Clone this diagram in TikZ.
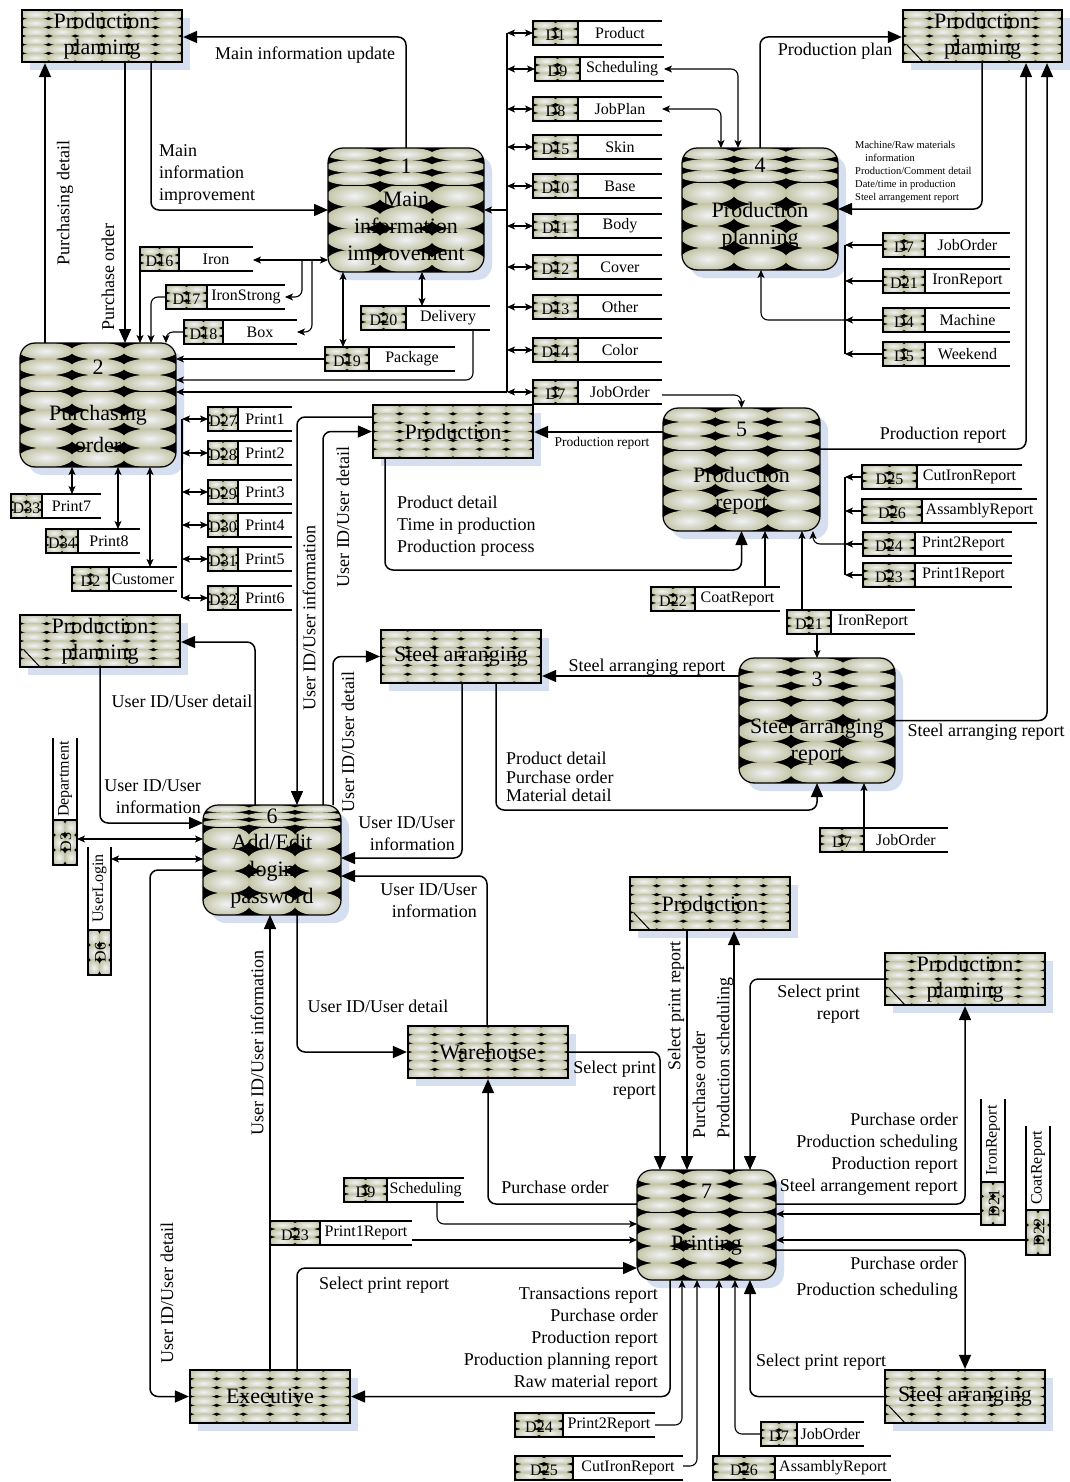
\documentclass[tikz,border=0pt]{standalone}
\usepackage{fontspec}
\setmainfont{Liberation Serif}
\usetikzlibrary{arrows.meta}

\definecolor{texin}{RGB}{240,242,246}
\definecolor{texout}{RGB}{196,197,166}
\definecolor{shadowc}{RGB}{214,223,240}

% grid of shaded ellipses on black: the textured fill of every symbol
\newcommand\texgrid[7]{%
  \begin{scope}
    \clip (#1,#2) rectangle (#3,#4);
    \fill[black] (#1,#2) rectangle (#3,#4);
    \pgfmathsetmacro\tgw{(#3-#1)/#5}%
    \pgfmathsetmacro\tgh{(#4-#2)/#6}%
    \foreach \ti in {1,...,#5}{%
      \foreach \tj in {1,...,#6}{%
        \shade[inner color=texin, outer color=texout]
          ({#1+(\ti-0.5)*\tgw},{#2+(\tj-0.5)*\tgh})
          ellipse [x radius={#7*\tgw*0.5pt}, y radius={#7*\tgh*0.5pt}];
      }}
  \end{scope}}

% external entity: name, x1, y1, x2, y2, text, duplicate mark (0/1)
\newcommand\Ent[7]{%
  \fill[shadowc] (#2+8,#3+8) rectangle (#4+8,#5+8);
  \texgrid{#2}{#3}{#4}{#5}{6}{6}{1.18}
  \ifnum#7=1 \draw[line width=1pt] (#2+4,#5-17) -- (#2+20,#5);\fi
  \node[entity, minimum width={(#4-#2)*1pt}, minimum height={(#5-#3)*1pt}]
    (#1) at ({(#2+#4)/2},{(#3+#5)/2}) {#6};}

% process: name, x1, y1, x2, y2, divider y, number, text
\newcommand\Proc[8]{%
  \fill[shadowc, rounded corners=15pt] (#2+8,#3+8) rectangle (#4+8,#5+8);
  \begin{scope}
    \clip[rounded corners=15pt] (#2,#3) rectangle (#4,#5);
    \texgrid{#2}{#3}{#4}{#6}{3}{3}{1.05}
    \texgrid{#2}{#6}{#4}{#5}{3}{4}{1.05}
  \end{scope}
  \node[proc, minimum width={(#4-#2)*1pt}, minimum height={(#5-#3)*1pt}]
    (#1) at ({(#2+#4)/2},{(#3+#5)/2}) {};
  \draw[line width=0.8pt] (#2,#6) -- (#4,#6);
  \node[ptext] (#1-n) at ({(#2+#4)/2},{(#3+#6)/2}) {#7};
  \node[ptext] (#1-t) at ({(#2+#4)/2},{(#6+#5)/2}) {#8};}

% data store: name, x1, x of id edge, x2, y1, y2, id, label
\newcommand\Store[8]{%
  \texgrid{#2}{#5}{#3}{#6}{2}{3}{1.12}
  \draw[line width=1.2pt] (#2,#5) rectangle (#3,#6);
  \draw[line width=2pt] (#3,#5) -- (#4,#5) (#3,#6) -- (#4,#6);
  \node[stxt] (#1-i) at ({(#2+#3)/2},{(#5+#6)/2+2}) {#7};
  \node[stxt] (#1-l) at ({(#3+#4)/2},{(#5+#6)/2}) {#8};
  \node[anchorbox, minimum width={(#4-#2)*1pt}, minimum height={(#6-#5)*1pt}]
    (#1) at ({(#2+#4)/2},{(#5+#6)/2}) {};}

% upright data store: name, x1, x2, y top, y of id box, y bottom, id, label
\newcommand\VStore[8]{%
  \texgrid{#2}{#5}{#3}{#6}{2}{3}{1.12}
  \draw[line width=1.2pt] (#2,#5) rectangle (#3,#6);
  \draw[line width=2pt] (#2,#4) -- (#2,#5) (#3,#4) -- (#3,#5);
  \node[stxt, rotate=90] (#1-i) at ({(#2+#3)/2+1},{(#5+#6)/2}) {#7};
  \node[stxt, rotate=90] (#1-l) at ({(#2+#3)/2},{(#4+#5)/2}) {#8};
  \node[anchorbox, minimum width={(#3-#2)*1pt}, minimum height={(#6-#4)*1pt}]
    (#1) at ({(#2+#3)/2},{(#4+#6)/2}) {};}

\tikzset{
  entity/.style={draw, line width=2.2pt, rectangle, inner sep=0pt, align=center,
    font=\fontsize{22}{26}\selectfont},
  proc/.style={draw, line width=1.2pt, rectangle, rounded corners=15pt,
    inner sep=0pt, outer sep=0pt},
  ptext/.style={align=center, inner sep=0pt, font=\fontsize{22}{27}\selectfont},
  stxt/.style={inner sep=0pt, font=\fontsize{16}{18}\selectfont},
  anchorbox/.style={rectangle, inner sep=0pt, outer sep=0pt},
  lbl/.style={inner sep=0pt, align=center, font=\fontsize{18}{22}\selectfont},
  slbl/.style={inner sep=0pt, font=\fontsize{13.5}{16}\selectfont},
  tlbl/.style={inner sep=0pt, align=left, font=\fontsize{10.5}{13}\selectfont},
  flow/.style={line width=1.5pt, rounded corners=8pt, -{Triangle[length=14pt,width=12pt]}},
  sflow/.style={line width=1.1pt, rounded corners=7pt, -{Stealth[length=8pt,width=7pt,inset=2pt]}},
  dflow/.style={line width=1.1pt, rounded corners=7pt,
    {Stealth[length=8pt,width=7pt,inset=2pt]}-{Stealth[length=8pt,width=7pt,inset=2pt]}},
  bus/.style={line width=1.1pt}
}

\begin{document}
\begin{tikzpicture}[x=1pt,y=-1pt]
\useasboundingbox (0,0) rectangle (1070,1482);
\fill[white] (0,0) rectangle (1070,1482);

% ---------- external entities ----------
\Ent{E1}{22}{10}{182}{62}{Production\\planning}{0}
\Ent{E2}{903}{10}{1062}{62}{Production\\planning}{1}
\Ent{E3}{20}{615}{180}{667}{Production\\planning}{1}
\Ent{EProd1}{373}{405}{533}{458}{Production}{0}
\Ent{ESteel1}{381}{630}{541}{683}{Steel arranging}{0}
\Ent{EProd2}{630}{877}{790}{930}{Production}{1}
\Ent{E4}{885}{953}{1045}{1005}{Production\\planning}{1}
\Ent{EWare}{408}{1026}{568}{1078}{Warehouse}{0}
\Ent{EExec}{190}{1370}{350}{1423}{Executive}{0}
\Ent{ESteel2}{885}{1370}{1045}{1423}{Steel arranging}{1}

% ---------- processes ----------
\Proc{P1}{328}{148}{484}{272}{185}{1}{Main\\information\\improvement}
\Proc{P4}{682}{148}{838}{270}{182}{4}{Production\\planning}
\Proc{P2}{20}{343}{176}{467}{391}{2}{Purchasing\\[5pt]order}
\Proc{P5}{663}{408}{820}{531}{450}{5}{Production\\report}
\Proc{P3}{739}{658}{895}{783}{700}{3}{Steel arranging\\report}
\Proc{P6}{203}{805}{341}{915}{827}{6}{Add/Edit\\login\\password}
\Proc{P7}{637}{1170}{776}{1280}{1212}{7}{Printing}

% ---------- data stores ----------
\Store{sD1}{533}{578}{662}{21}{45}{D1}{Product}
\Store{sD9}{535}{580}{664}{57}{81}{D9}{Scheduling}
\Store{sD8}{533}{578}{662}{97}{121}{D8}{JobPlan}
\Store{sD15}{533}{578}{662}{135}{159}{D15}{Skin}
\Store{sD10}{533}{578}{662}{174}{198}{D10}{Base}
\Store{sD11}{533}{578}{662}{214}{238}{D11}{Body}
\Store{sD12}{533}{578}{662}{255}{279}{D12}{Cover}
\Store{sD13}{533}{578}{662}{295}{319}{D13}{Other}
\Store{sD14}{533}{578}{662}{338}{362}{D14}{Color}
\Store{sD7a}{533}{578}{662}{380}{404}{D7}{JobOrder}

\Store{sD7b}{883}{925}{1010}{233}{257}{D7}{JobOrder}
\Store{sD21a}{883}{925}{1010}{269}{293}{D21}{IronReport}
\Store{sD4}{883}{925}{1010}{308}{332}{D4}{Machine}
\Store{sD5}{883}{925}{1010}{342}{366}{D5}{Weekend}

\Store{sD16}{140}{179}{253}{247}{271}{D16}{Iron}
\Store{sD17}{166}{207}{285}{285}{309}{D17}{IronStrong}
\Store{sD18}{184}{223}{297}{320}{344}{D18}{Box}
\Store{sD20}{361}{406}{490}{306}{330}{D20}{Delivery}
\Store{sD19}{325}{369}{455}{347}{371}{D19}{Package}

\Store{sD27}{208}{238}{292}{407}{431}{D27}{Print1}
\Store{sD28}{208}{238}{292}{441}{465}{D28}{Print2}
\Store{sD29}{208}{238}{292}{480}{504}{D29}{Print3}
\Store{sD30}{208}{238}{292}{513}{537}{D30}{Print4}
\Store{sD31}{208}{238}{292}{547}{571}{D31}{Print5}
\Store{sD32}{208}{238}{292}{586}{610}{D32}{Print6}

\Store{sD33}{11}{42}{101}{494}{518}{D33}{Print7}
\Store{sD34}{46}{78}{140}{529}{553}{D34}{Print8}
\Store{sD2}{72}{109}{177}{567}{591}{D2}{Customer}

\Store{sD25a}{862}{917}{1022}{465}{489}{D25}{CutIronReport}
\Store{sD26a}{862}{922}{1037}{499}{523}{D26}{AssamblyReport}
\Store{sD24a}{863}{915}{1012}{532}{556}{D24}{Print2Report}
\Store{sD23a}{863}{915}{1012}{563}{587}{D23}{Print1Report}
\Store{sD22a}{651}{695}{780}{587}{611}{D22}{CoatReport}
\Store{sD21b}{787}{831}{915}{610}{634}{D21}{IronReport}
\Store{sD7c}{820}{864}{948}{828}{852}{D7}{JobOrder}

\Store{sD9b}{344}{387}{464}{1178}{1202}{D9}{Scheduling}
\Store{sD23b}{270}{320}{412}{1221}{1245}{D23}{Print1Report}
\Store{sD24b}{515}{563}{655}{1413}{1437}{D24}{Print2Report}
\Store{sD25b}{515}{573}{683}{1456}{1480}{D25}{CutIronReport}
\Store{sD26b}{713}{775}{891}{1456}{1480}{D26}{AssamblyReport}
\Store{sD7d}{761}{797}{864}{1422}{1446}{D7}{JobOrder}

\VStore{sD3}{53}{77}{738}{820}{865}{D3}{Department}
\VStore{sD6}{88}{111}{847}{930}{975}{D6}{UserLogin}
\VStore{sD21c}{981}{1005}{1099}{1182}{1225}{D21}{IronReport}
\VStore{sD22b}{1026}{1050}{1126}{1210}{1255}{D22}{CoatReport}

% ---------- flows around process 1 and 2 ----------
\draw[flow] (P2.north -| 45,0) -- (E1.south -| 45,0);
\draw[flow] (E1.south -| 125,0) -- (P2.north -| 125,0);
\draw[flow] (E1.south -| 151,0) |- (P1.west);
\draw[flow] (P1.north) |- (E1.east |- 0,37);

\draw[dflow] (sD16.east |- 0,260) -- (P1.west |- 0,260);
\coordinate (j1) at (302,260);
\coordinate (j2) at (312,260);
\draw[sflow] (j1) |- (sD17.east);
\draw[sflow] (j2) |- (sD18.east);
\draw[sflow] (sD17.west) -| (P2.north -| 151,0);
\draw[sflow] (sD18.west) -| (P2.north -| 166,0);
\draw[sflow] (sD16.south west) -- (P2.north -| sD16.south west);
\draw[dflow] (P1.south -| 343,0) -- (sD19.north -| 343,0);
\draw[dflow] (P1.south -| 422,0) -- (sD20.north -| 422,0);
\draw[sflow] (sD19.west) -- (P2.east |- sD19.west);
\draw[sflow] (sD20.south -| 473,0) |- (P2.east |- 0,380);

% store bus on the right of process 1
\coordinate (bt) at (507,33);
\coordinate (bb) at (507,392);
\draw[bus] (bt) -- (bb);
\draw[sflow] (bt |- P1.east) -- (P1.east);
\draw[sflow] (bb) -- (P2.east |- bb);
\foreach \s in {sD1,sD9,sD8,sD15,sD10,sD11,sD12,sD13,sD14,sD7a}
  \draw[dflow] (bt |- \s.west) -- (\s.west);

% stores below and beside process 2
\draw[dflow] (P2.south -| 72,0) -- (sD33.north -| 72,0);
\draw[dflow] (P2.south -| 118,0) -- (sD34.north -| 118,0);
\draw[dflow] (P2.south -| 150,0) -- (sD2.north -| 150,0);
\coordinate (qb) at (182,419);
\draw[bus] (qb) -- (qb |- sD32.west);
\foreach \s in {sD27,sD28,sD29,sD30,sD31,sD32}
  \draw[dflow] (qb |- \s.west) -- (\s.west);

% ---------- process 4 ----------
\draw[dflow] (sD9.east) -| (P4.north -| 738,0);
\draw[dflow] (sD8.east) -| (P4.north -| 721,0);
\draw[flow] (P4.north) |- (E2.west |- 0,37);
\draw[flow] (E2.south -| 982,0) |- (P4.east);
\coordinate (rb) at (845,245);
\draw[bus] (rb) -- (rb |- sD5.west);
\foreach \s in {sD7b,sD21a,sD4,sD5}
  \draw[sflow] (\s.west) -- (rb |- \s.west);
\draw[sflow] (rb |- sD4.west) -| (P4.south -| 761,0);

% ---------- process 5 ----------
\draw[sflow] (sD7a.east |- 0,395) -| (P5.north);
\draw[flow] (P5.west |- 0,432) -- (EProd1.east |- 0,432);
\draw[flow] (EProd1.south -| 385,0) |- (P5.south |- 0,570) -- (P5.south);
\draw[flow] (P5.east |- 0,449) -| (E2.south -| 1026,0);
\coordinate (pb) at (845,477);
\draw[bus] (pb) -- (pb |- sD23a.west);
\foreach \s in {sD25a,sD26a,sD24a,sD23a}
  \draw[sflow] (\s.west) -- (pb |- \s.west);
\draw[sflow] (pb |- sD24a.west) -| (P5.south -| 813,0);
\draw[sflow] (sD22a.north -| 765,0) -- (P5.south -| 765,0);
\draw[sflow] (sD21b.north -| 802,0) -- (P5.south -| 802,0);
\draw[sflow] (sD21b.south -| 817,0) -- (P3.north -| 817,0);

% ---------- process 3 ----------
\draw[flow] (P3.west |- 0,676) -- (ESteel1.east |- 0,676);
\draw[flow] (P3.east) -| (E2.south -| 1047,0);
\draw[sflow] (sD7c.north -| 864,0) -- (P3.south -| 864,0);
\draw[flow] (ESteel1.south -| 496,0) |- (P3.south |- 0,810) -- (P3.south);

% ---------- process 6 ----------
\draw[flow] (ESteel1.south -| 462,0) |- (P6.east |- 0,858);
\draw[flow] (EWare.north -| 487,0) |- (P6.east |- 0,876);
\draw[flow] (E3.south -| 100,0) |- (P6.west |- 0,823);
\draw[flow] (P6.north -| 255,0) |- (E3.east |- 0,642);
\draw[dflow] (sD3.east |- 0,839) -- (P6.west |- 0,839);
\draw[dflow] (sD6.east |- 0,859) -- (P6.west |- 0,859);
\draw[flow] (P6.west |- 0,870) -| (EExec.west -| 150,0) -- (EExec.west);
\draw[flow] (EExec.north -| 270,0) -- (P6.south -| 270,0);
\draw[flow] (EProd1.west |- 0,417) -| (P6.north -| 297,0);
\draw[flow] (P6.north -| 323,0) |- (EProd1.west);
\draw[flow] (P6.north -| 333,0) |- (ESteel1.west);
\draw[flow] (P6.south -| 297,0) |- (EWare.west);

% ---------- process 7 ----------
\draw[flow] (EExec.north -| 297,0) |- (P7.west |- 0,1268);
\draw[flow] (P7.south -| 670,0) |- (EExec.east);
\draw[flow] (EWare.east) -| (P7.north -| 660,0);
\draw[flow] (P7.west |- 0,1204) -| (EWare.south -| 488,0);
\draw[sflow] (sD9b.south -| 437,0) |- (P7.west |- 0,1224);
\draw[sflow] (sD23b.east |- 0,1240) -- (P7.west |- 0,1240);
\draw[flow] (EProd2.south -| 687,0) -- (P7.north -| 687,0);
\draw[flow] (P7.north -| 734,0) -- (EProd2.south -| 734,0);
\draw[flow] (E4.west) -| (P7.north -| 750,0);
\draw[flow] (P7.east |- 0,1204) -| (E4.south -| 965,0);
\draw[sflow] (sD21c.west |- 0,1214) -- (P7.east |- 0,1214);
\draw[sflow] (sD22b.west |- 0,1240) -- (P7.east |- 0,1240);
\draw[flow] (P7.east |- 0,1250) -| (ESteel2.north -| 965,0);
\draw[flow] (ESteel2.west) -| (P7.south -| 750,0);
\draw[sflow] (sD24b.east) -| (P7.south -| 682,0);
\draw[sflow] (sD25b.east |- 0,1466) -| (P7.south -| 697,0);
\draw[sflow] (sD26b.north -| 719,0) -- (P7.south -| 719,0);
\draw[sflow] (sD7d.west) -| (P7.south -| 735,0);

% ---------- flow labels ----------
\node[lbl, rotate=90] (t1) at (65,203) {Purchasing detail};
\node[lbl, rotate=90] (t2) at (108,277) {Purchase order};
\node[lbl, align=left, anchor=west] (t3) at (159,174) {Main\\information\\improvement};
\node[lbl] (t4) at (305,55) {Main information update};
\node[lbl] (t5) at (835,51) {Production plan};
\node[tlbl, anchor=west] (t6) at (855,172)
  {Machine/Raw materials\\\hspace*{10pt}information\\Production/Comment detail\\Date/time in production\\Steel arrangement report};
\node[slbl] (t7) at (602,443) {Production report};
\node[lbl, align=left, anchor=west] (t8) at (397,526) {Product detail\\Time in production\\Production process};
\node[lbl] (t9) at (943,435) {Production report};
\node[lbl] (t10) at (647,667) {Steel arranging report};
\node[lbl] (t11) at (986,732) {Steel arranging report};
\node[lbl, align=left, anchor=west, font=\fontsize{18}{18.5}\selectfont] (t12) at (506,777)
  {Product detail\\Purchase order\\Material detail};
\node[lbl] (t13) at (182,701) {User ID/User detail};
\node[lbl, align=right, anchor=east] (t14) at (201,797) {User ID/User\\information};
\node[lbl, align=right, anchor=east] (t15) at (455,834) {User ID/User\\information};
\node[lbl, align=right, anchor=east] (t16) at (477,901) {User ID/User\\information};
\node[lbl, rotate=90] (t17) at (309,618) {User ID/User information};
\node[lbl, rotate=90] (t18) at (343,517) {User ID/User detail};
\node[lbl, rotate=90] (t19) at (348,742) {User ID/User detail};
\node[lbl] (t20) at (378,1006) {User ID/User detail};
\node[lbl, align=right, anchor=east] (t21) at (656,1080) {Select print\\report};
\node[lbl] (t22) at (555,1187) {Purchase order};
\node[lbl, rotate=90] (t23) at (257,1043) {User ID/User information};
\node[lbl, rotate=90] (t24) at (167,1293) {User ID/User detail};
\node[lbl] (t25) at (384,1285) {Select print report};
\node[lbl, align=right, anchor=east] (t26) at (658,1339)
  {Transactions report\\Purchase order\\Production report\\Production planning report\\Raw material report};
\node[lbl, rotate=90] (t27) at (676,1006) {Select print report};
\node[lbl, rotate=90] (t28) at (699,1085) {Purchase order};
\node[lbl, rotate=90] (t29) at (725,1058) {Production scheduling};
\node[lbl, align=right, anchor=east] (t30) at (860,1004) {Select print\\report};
\node[lbl, align=right, anchor=east] (t31) at (958,1154)
  {Purchase order\\Production scheduling\\Production report\\Steel arrangement report};
\node[lbl, align=right, anchor=east, font=\fontsize{18}{26}\selectfont] (t32) at (958,1278)
  {Purchase order\\Production scheduling};
\node[lbl] (t33) at (821,1362) {Select print report};
\end{tikzpicture}
\end{document}
